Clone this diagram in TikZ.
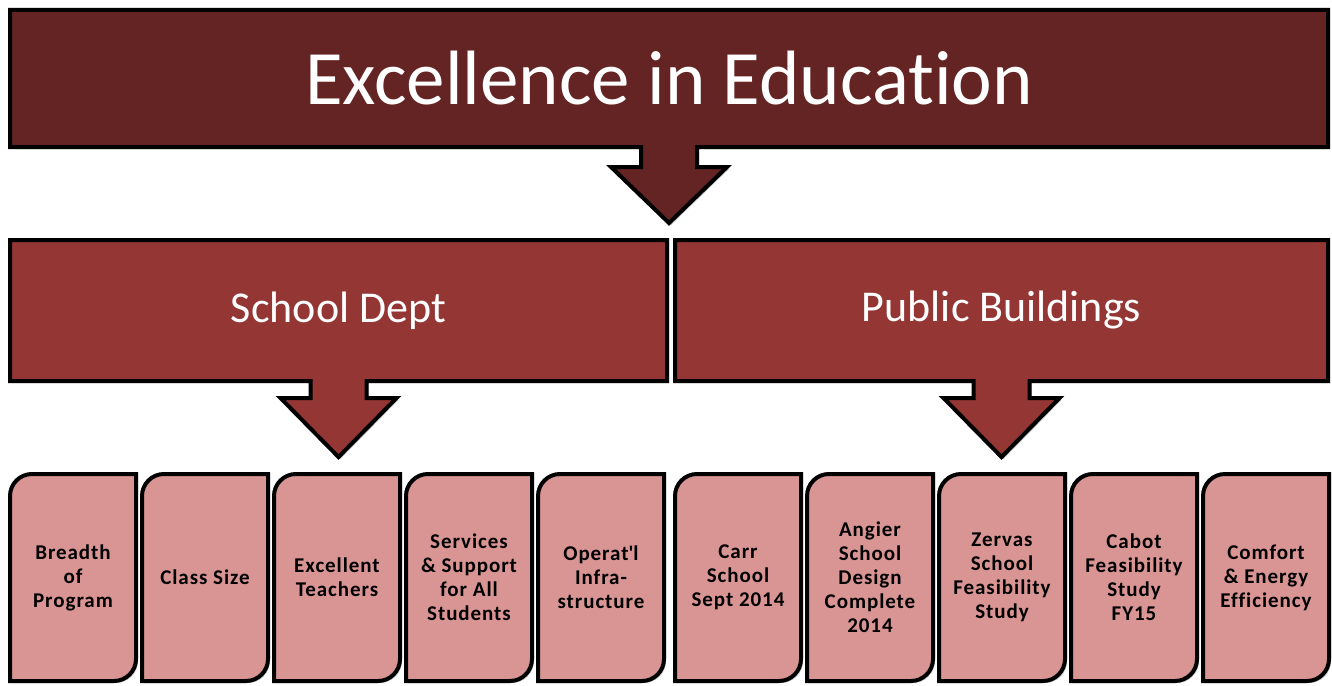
\documentclass[tikz,border=0pt]{standalone}
\usepackage{fontspec}
\setmainfont{Carlito}[Ligatures=NoCommon]
\newfontfamily\leaffont{Carlito}[Ligatures=NoCommon, LetterSpace=4.5]
\usetikzlibrary{positioning, backgrounds, shadows}
\definecolor{darkred}{HTML}{632423}
\definecolor{midred}{HTML}{943634}
\definecolor{lightred}{HTML}{D99594}

\begin{document}
\begin{tikzpicture}[x=1pt, y=1pt,
	outline/.style={draw=black, line width=4pt, line join=miter, drop shadow={shadow xshift=2pt, shadow yshift=-2pt, opacity=.45}},
	head/.style={outer sep=0pt, inner sep=0pt, text=white},
	leaf/.style={outer sep=0pt, inner sep=0pt, minimum width=126pt, minimum height=207pt, align=center, font=\leaffont\fontsize{21}{24}\selectfont\bfseries}]
	\useasboundingbox (0,0) rectangle (1332,-685);
	\node[head, minimum width=1318pt, minimum height=137pt, font=\fontsize{77}{80}\selectfont] (a) at (669,-78.5) {Excellence in Education};
	\node[head, minimum width=657pt, minimum height=141pt, font=\fontsize{44}{48}\selectfont] (b1) at (338.5,-310.5) {School Dept};
	\node[head, minimum width=653pt, minimum height=141pt, font=\fontsize{44}{48}\selectfont] (b2) at (1001.5,-310.5) {Public Buildings};
	
	\node[leaf, anchor=south west] (c1) at (10,-681) {Breadth\\of\\Program};
	\node[leaf, right=6pt of c1] (c2) {Class Size};
	\node[leaf, right=6pt of c2] (c3) {Excellent\\Teachers};
	\node[leaf, right=6pt of c3] (c4) {Services\\\& Support\\for All\\Students};
	\node[leaf, right=6pt of c4] (c5) {Operat\textquotesingle l\\Infra-\\structure};
	
	\node[leaf, anchor=south west] (c6) at (675,-681) {Carr\\School\\Sept 2014};
	\node[leaf, right=6pt of c6] (c7) {Angier\\School\\Design\\Complete\\2014};
	\node[leaf, right=6pt of c7] (c8) {Zervas\\School\\Feasibility\\Study};
	\node[leaf, right=6pt of c8] (c9) {Cabot\\Feasibility\\Study\\FY15};
	\node[leaf, right=6pt of c9] (c10) {Comfort\\\& Energy\\Efficiency};
	
	\begin{scope}[on background layer]
		\foreach \n/\col/\s/\h in {a/darkred/20/56, b1/midred/17/59, b2/midred/17/59}
			\draw[outline, fill=\col] (\n.north west) -- (\n.north east) -- (\n.south east) -- ([xshift=28pt]\n.south) -- ++(0,-\s) -- ++(30,0) -- ++(-58,-\h) -- ++(-58,\h) -- ++(30,0) -- ++(0,\s) -- (\n.south west) -- cycle;
		\foreach \n in {1,...,10}
			\draw[outline, fill=lightred] (c\n.south west) -- ([yshift=-22pt]c\n.north west) arc[start angle=180, end angle=90, radius=22pt] -- (c\n.north east) -- ([yshift=22pt]c\n.south east) arc[start angle=0, end angle=-90, radius=22pt] -- cycle;
	\end{scope}
\end{tikzpicture}
\end{document}
